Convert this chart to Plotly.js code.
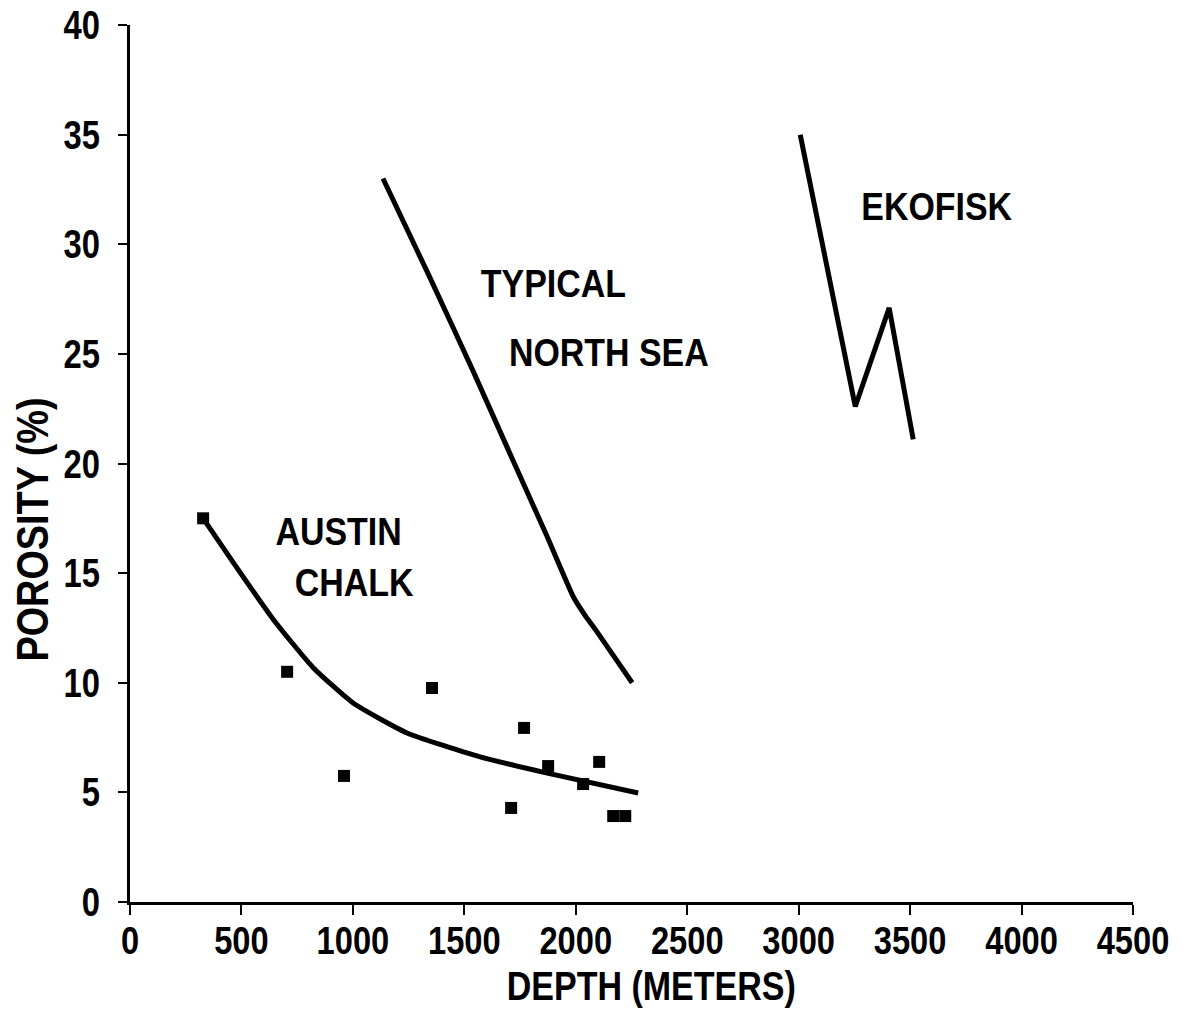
<!DOCTYPE html>
<html>
<head>
<meta charset="utf-8">
<script src="https://cdn.plot.ly/plotly-3.0.1.min.js"></script>
<style>
  html, body { margin: 0; padding: 0; background: #fff; }
  #chart { width: 1186px; height: 1010px; }
</style>
</head>
<body>
<div id="chart"></div>
<script>
// Austin Chalk measured points
const austinPointsDepth = [328, 705, 960, 1355, 1710, 1768, 1876, 2033, 2105, 2168, 2222];
const austinPointsPorosity = [17.5, 10.5, 5.75, 9.76, 4.29, 7.94, 6.2, 5.38, 6.39, 3.92, 3.92];

// Austin Chalk trend curve
const austinCurveDepth = [328, 462, 642, 821, 1001, 1243, 1571, 1872, 2280];
const austinCurvePorosity = [17.5, 15.5, 12.9, 10.7, 9.08, 7.71, 6.62, 5.88, 4.97];

// Typical North Sea trend
const northSeaDepth = [1135, 1340, 1540, 1720, 1870, 1990, 2040, 2090, 2253];
const northSeaPorosity = [33.0, 28.6, 24.2, 20.1, 16.7, 13.9, 13.1, 12.4, 10.0];

// Ekofisk trend
const ekofiskDepth = [3007, 3254, 3406, 3514];
const ekofiskPorosity = [35.0, 22.6, 27.1, 21.1];

// Tick values
const xTicks = [0, 500, 1000, 1500, 2000, 2500, 3000, 3500, 4000, 4500];
const yTicks = [0, 5, 10, 15, 20, 25, 30, 35, 40];

const FONT = "Liberation Sans, Arial, sans-serif";
const lineStyle = { color: '#000', width: 5, shape: 'spline', smoothing: 0.5 };

const traces = [
  { x: austinCurveDepth, y: austinCurvePorosity, mode: 'lines', line: lineStyle, hoverinfo: 'skip' },
  { x: northSeaDepth, y: northSeaPorosity, mode: 'lines', line: lineStyle, hoverinfo: 'skip' },
  { x: ekofiskDepth, y: ekofiskPorosity, mode: 'lines', line: { color: '#000', width: 5 }, hoverinfo: 'skip' },
  { x: austinPointsDepth, y: austinPointsPorosity, mode: 'markers',
    marker: { symbol: 'square', size: 12, color: '#000' }, hoverinfo: 'skip' }
];

function lab(text, x, y) {
  return { text: text, x: x, y: y, xref: 'x', yref: 'y', showarrow: false,
           font: { family: FONT, size: 39, color: '#000', weight: 700 } };
}

const layout = {
  width: 1186, height: 1010,
  margin: { l: 130, r: 53, t: 25, b: 108 },
  paper_bgcolor: '#fff', plot_bgcolor: '#fff',
  showlegend: false,
  font: { family: FONT, color: '#000' },
  xaxis: {
    range: [0, 4500], tickvals: xTicks, ticktext: xTicks.map(String),
    showgrid: false, zeroline: false, showline: true, linecolor: '#000', linewidth: 3,
    ticks: 'outside', ticklen: 10, tickwidth: 2, tickcolor: '#000',
    tickfont: { family: FONT, size: 38, color: '#000', weight: 700 }, ticklabelstandoff: -7,
    fixedrange: true
  },
  yaxis: {
    range: [0, 40], tickvals: yTicks, ticktext: yTicks.map(String),
    showgrid: false, zeroline: false, showline: true, linecolor: '#000', linewidth: 3,
    ticks: 'outside', ticklen: 9, tickwidth: 2, tickcolor: '#000',
    tickfont: { family: FONT, size: 40, color: '#000', weight: 700 }, ticklabelstandoff: 10,
    fixedrange: true
  },
  annotations: [
    lab('TYPICAL', 1898, 28.2),
    lab('NORTH SEA', 2150, 25.08),
    lab('AUSTIN', 934, 16.9),
    lab('CHALK', 1006, 14.59),
    lab('EKOFISK', 3617, 31.74),
    { text: 'DEPTH (METERS)', xref: 'paper', yref: 'paper', x: 0.52, y: 0, yshift: -84,
      xanchor: 'center', yanchor: 'middle', showarrow: false,
      font: { family: FONT, size: 41, color: '#000', weight: 700 } },
    { text: 'POROSITY (%)', xref: 'paper', yref: 'paper', x: 0, xshift: -98, y: 0.424,
      xanchor: 'center', yanchor: 'middle', textangle: -90, showarrow: false,
      font: { family: FONT, size: 44, color: '#000', weight: 700 } }
  ]
};

// condense text horizontally (the original uses a condensed heavy typeface)
function condense(el, s) {
  const bb = el.getBBox();
  const anchor = el.getAttribute('text-anchor') || 'start';
  let ox = bb.x + bb.width / 2;
  if (anchor === 'end') ox = bb.x + bb.width;
  else if (anchor === 'start') ox = bb.x;
  const prev = el.getAttribute('transform') || '';
  el.setAttribute('transform', prev + ' translate(' + ox + ',0) scale(' + s + ',1) translate(' + (-ox) + ',0)');
}

Plotly.newPlot('chart', traces, layout, { displayModeBar: false, staticPlot: true }).then(function (gd) {
  gd.querySelectorAll('.xtick text').forEach(function (t) { condense(t, 0.86); });
  gd.querySelectorAll('.ytick text').forEach(function (t) { condense(t, 0.82); });
  gd.querySelectorAll('.annotation-text').forEach(function (t) {
    const txt = t.textContent;
    let s = 0.87;
    if (txt === 'DEPTH (METERS)') s = 0.83;
    if (txt === 'POROSITY (%)') s = 0.86;
    condense(t, s);
  });
});
</script>
</body>
</html>
